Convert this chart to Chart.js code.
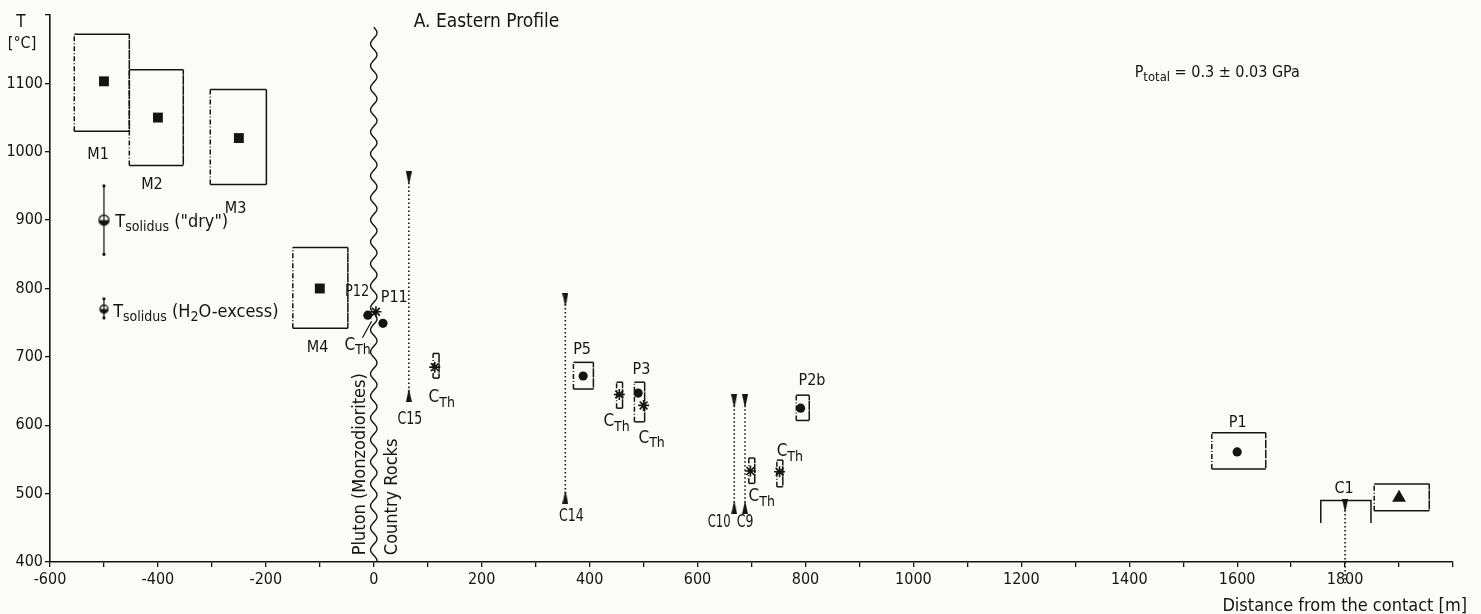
<!DOCTYPE html>
<html>
<head>
<meta charset="utf-8">
<title>A. Eastern Profile</title>
<script src="https://cdn.jsdelivr.net/npm/chart.js@4.4.1/dist/chart.umd.min.js"></script>
<style>
  html, body { margin: 0; padding: 0; background: #fbfbfa; }
  canvas { display: block; }
</style>
</head>
<body>
<canvas id="profileChart" width="1481" height="614"></canvas>
<script>
/*******************************************************
 * DATA
 *******************************************************/
// boxes: distance range [m] and temperature range [°C]
const boxXMin = [-555, -453, -303, -150, 370, 483, 450, 783, 110, 695, 747, 1553, 1854];
const boxXMax = [-453, -353, -199, -48, 407, 502, 461, 807, 121, 706, 758, 1653, 1956];
const boxTMin = [1030, 980, 952, 742, 653, 605, 625, 607, 669, 515, 510, 536, 475];
const boxTMax = [1172, 1120, 1091, 860, 692, 663, 663, 644, 705, 552, 549, 589, 514];

// M samples (squares)
const mX = [-500, -400, -250, -100];
const mT = [1103, 1050, 1020, 800];
// P samples (dots)
const pX = [-11, 17, 388, 490, 791, 1600];
const pT = [761, 749, 672, 647, 625, 561];
// C_Th (asterisks)
const cthX = [4, 113, 455, 500, 698, 752];
const cthT = [766, 685, 645, 629, 533, 532];
// triangle
const triX = [1900];
const triT = [494];
// T solidus references
const solidusX = [-500, -500];
const solidusT = [900, 770];
const solidusLo = [850, 757];
const solidusHi = [950, 785];
// C samples: ranges drawn as dotted verticals
const cNames = ['C15', 'C14', 'C10', 'C9', 'C1'];
const cX = [65, 355, 668, 688, 1800];
const cTop = [961, 783, 635, 635, 482];
const cBottom = [644, 495, 480, 480, 369];
// C1 bracket
const c1BracketX = [1755, 1848];
const c1BracketT = [457, 490];
// contact pluton / country rocks
const contactX = 0;
const contactTop = 1182;

const xMin = -600, xMax = 2000, yMin = 400, yMax = 1200;

/*******************************************************
 * TEXT
 *******************************************************/
const FONT = "'DejaVu Sans Condensed', 'Liberation Sans Narrow', 'DejaVu Sans', sans-serif";
const INK = '#141414';

const notes = [
    { t: 'A. Eastern Profile', x: 74, y: 1190, size: 19, align: 'left' },
    { t: 'P_{total} = 0.3 ± 0.03 GPa', x: 1410, y: 1116, size: 16, align: 'left' },
    { t: 'M1', x: -511, y: 995 },
    { t: 'M2', x: -411, y: 951 },
    { t: 'M3', x: -256, y: 917 },
    { t: 'M4', x: -104, y: 713 },
    { t: 'T_{solidus} ("dry")', x: -479, y: 897, size: 18, align: 'left' },
    { t: 'T_{solidus} (H_{2}O-excess)', x: -483, y: 765, size: 18, align: 'left' },
    { t: 'P12', x: -31, y: 795, sx: 0.9 },
    { t: 'P11', x: 38, y: 786 },
    { t: 'C_{Th}', x: -30, y: 717, size: 17 },
    { t: 'C_{Th}', x: 126, y: 640, size: 17 },
    { t: 'P5', x: 386, y: 710 },
    { t: 'C_{Th}', x: 450, y: 605, size: 17 },
    { t: 'P3', x: 496, y: 681 },
    { t: 'C_{Th}', x: 515, y: 581, size: 17 },
    { t: 'C_{Th}', x: 719, y: 495, size: 17 },
    { t: 'C_{Th}', x: 771, y: 561, size: 17 },
    { t: 'P2b', x: 812, y: 665 },
    { t: 'P1', x: 1601, y: 603 },
    { t: 'C1', x: 1798, y: 507 },
    { t: 'C15', x: 67, y: 608, size: 17, sx: 0.82 },
    { t: 'C14', x: 366, y: 466, size: 17, sx: 0.82 },
    { t: 'C10', x: 640, y: 458, size: 17, sx: 0.76 },
    { t: 'C9', x: 688, y: 458, size: 17, sx: 0.82 },
    { t: 'Pluton (Monzodiorites)', x: -24, y: 410, size: 18, rot: true, align: 'left' },
    { t: 'Country Rocks', x: 35, y: 410, size: 18, rot: true, align: 'left' }
];

function drawRich(ctx, text, x, y, size, align) {
    const parts = text.split(/(_\{[^}]*\})/).filter(Boolean).map(p =>
        p.startsWith('_{') ? { s: p.slice(2, -1), sub: true } : { s: p, sub: false });
    const fontFor = sub => `${sub ? Math.round(size * 0.8) : size}px ${FONT}`;
    let w = 0;
    parts.forEach(p => { ctx.font = fontFor(p.sub); p.w = ctx.measureText(p.s).width; w += p.w; });
    let cx = align === 'left' ? x : align === 'right' ? x - w : x - w / 2;
    parts.forEach(p => {
        ctx.font = fontFor(p.sub);
        ctx.fillText(p.s, cx, y + (p.sub ? size * 0.3 : 0));
        cx += p.w;
    });
}

/*******************************************************
 * MARKERS
 *******************************************************/
function halfDot(r) {
    const c = document.createElement('canvas');
    c.width = c.height = 2 * r + 3;
    const g = c.getContext('2d');
    const m = r + 1.5;
    g.fillStyle = INK;
    g.beginPath(); g.arc(m, m, r, 0, Math.PI); g.fill();
    g.beginPath(); g.arc(m, m, r, 0, 2 * Math.PI);
    g.lineWidth = 1.3; g.strokeStyle = INK; g.stroke();
    return c;
}

function wedge(down) {
    const c = document.createElement('canvas');
    c.width = 6; c.height = 14;
    const g = c.getContext('2d');
    g.fillStyle = INK;
    g.beginPath();
    if (down) { g.moveTo(0, 0); g.lineTo(6, 0); g.lineTo(3, 14); }
    else { g.moveTo(3, 0); g.lineTo(6, 14); g.lineTo(0, 14); }
    g.closePath(); g.fill();
    return c;
}

const wedgeDown = wedge(true);
const wedgeUp = wedge(false);

/*******************************************************
 * DATASETS
 *******************************************************/
const boxPoints = [];
boxXMin.forEach((x0, i) => {
    const x1 = boxXMax[i], y0 = boxTMin[i], y1 = boxTMax[i];
    boxPoints.push({ x: x0, y: y1 }, { x: x1, y: y1 }, { x: x1, y: y0 }, { x: x0, y: y0 }, { x: x0, y: y1 }, { x: x0, y: null });
});

const pts = (xs, ys) => xs.map((x, i) => ({ x, y: ys[i] }));

const datasets = [
    {
        type: 'line', data: boxPoints, borderColor: INK, borderWidth: 1.5, pointRadius: 0, spanGaps: false,
        segment: { borderDash: ctx => ctx.p0.parsed.x === ctx.p1.parsed.x ? [5, 2, 1, 2] : undefined }
    },
    {
        type: 'line', clip: false, pointRadius: 0, borderColor: INK, borderWidth: 1.5,
        data: [{ x: c1BracketX[0], y: c1BracketT[0] }, { x: c1BracketX[0], y: c1BracketT[1] },
               { x: c1BracketX[1], y: c1BracketT[1] }, { x: c1BracketX[1], y: c1BracketT[0] }]
    }
];

cX.forEach((x, i) => {
    datasets.push({
        type: 'line', clip: false, borderColor: INK, borderWidth: 1.6, borderDash: [1.5, 2.5],
        data: [{ x, y: cTop[i] }, { x, y: cBottom[i] }],
        pointStyle: [wedgeDown, wedgeUp], pointRadius: 6
    });
});

solidusX.forEach((x, i) => {
    datasets.push({
        type: 'line', borderColor: INK, borderWidth: 1.2, pointRadius: 1.6,
        pointBackgroundColor: INK, pointBorderWidth: 0,
        data: [{ x, y: solidusLo[i] }, { x, y: solidusHi[i] }]
    });
});

// leader from C_Th label to the P12 asterisk
datasets.push({
    type: 'line', borderColor: INK, borderWidth: 1.2, pointRadius: 0,
    data: [{ x: -21, y: 728 }, { x: -4, y: 752 }]
});

datasets.push(
    { type: 'scatter', data: pts(mX, mT), pointStyle: 'rect', pointRadius: 7, backgroundColor: INK, borderWidth: 0 },
    { type: 'scatter', data: pts(pX, pT), pointStyle: 'circle', pointRadius: 4.6, backgroundColor: INK, borderWidth: 0 },
    { type: 'scatter', data: pts(cthX, cthT), pointStyle: 'star', pointRadius: 5.5, borderColor: INK, borderWidth: 1.6 },
    { type: 'scatter', data: pts(triX, triT), pointStyle: 'triangle', pointRadius: 8, backgroundColor: INK, borderWidth: 0 },
    { type: 'scatter', data: pts(solidusX, solidusT), pointStyle: [halfDot(5), halfDot(4)], pointRadius: 5 }
);

/*******************************************************
 * PLUGINS
 *******************************************************/
const paperPlugin = {
    id: 'paper',
    beforeDraw(chart) {
        const { ctx, width, height } = chart;
        ctx.save();
        ctx.fillStyle = '#fbfbfa';
        ctx.fillRect(0, 0, width, height);
        ctx.restore();
    }
};

const contactPlugin = {
    id: 'contact',
    beforeDatasetsDraw(chart) {
        const { ctx, scales: { x, y } } = chart;
        const x0 = x.getPixelForValue(contactX);
        const top = y.getPixelForValue(contactTop);
        const bottom = y.getPixelForValue(yMin);
        ctx.save();
        ctx.strokeStyle = INK;
        ctx.lineWidth = 1.4;
        ctx.beginPath();
        for (let py = top; py <= bottom; py += 1) {
            const px = x0 + 3.2 * Math.sin((py - top) / 22 * 2 * Math.PI);
            if (py === top) ctx.moveTo(px, py); else ctx.lineTo(px, py);
        }
        ctx.stroke();
        ctx.restore();
    }
};

const notesPlugin = {
    id: 'notes',
    afterDatasetsDraw(chart) {
        const { ctx, scales: { x, y }, chartArea } = chart;
        ctx.save();
        ctx.fillStyle = INK;
        ctx.textBaseline = 'middle';
        ctx.textAlign = 'left';
        notes.forEach(n => {
            const px = x.getPixelForValue(n.x), py = y.getPixelForValue(n.y);
            const size = n.size || 16;
            ctx.save();
            ctx.translate(px, py);
            if (n.rot) ctx.rotate(-Math.PI / 2);
            if (n.sx) ctx.scale(n.sx, 1);
            drawRich(ctx, n.t, 0, 0, size, n.align || 'center');
            ctx.restore();
        });
        // axis titles
        drawRich(ctx, 'T', chartArea.left - 29, chartArea.top + 8, 17, 'center');
        drawRich(ctx, '[°C]', chartArea.left - 28, chartArea.top + 29, 16, 'center');
        drawRich(ctx, 'Distance from the contact [m]', chartArea.right + 14, chartArea.bottom + 44, 18, 'right');
        ctx.restore();
    }
};

/*******************************************************
 * CHART
 *******************************************************/
new Chart(document.getElementById('profileChart'), {
    data: { datasets },
    options: {
        responsive: false,
        animation: false,
        devicePixelRatio: 1,
        layout: { padding: { top: 15, right: 28, bottom: 0, left: 0 } },
        plugins: { legend: { display: false }, tooltip: { enabled: false } },
        scales: {
            x: {
                type: 'linear', min: xMin, max: xMax,
                afterFit: s => { s.height = 52; },
                border: { color: INK, width: 1.6 },
                grid: { drawOnChartArea: false, tickLength: 5, color: INK, lineWidth: 1.3 },
                ticks: {
                    stepSize: 100, autoSkip: false, maxRotation: 0, padding: 3, color: INK,
                    font: { family: FONT, size: 16 },
                    callback: v => (v % 200 === 0 && v < xMax) ? String(v) : ''
                }
            },
            y: {
                type: 'linear', min: yMin, max: yMax,
                afterFit: s => { s.width = 50; },
                border: { color: INK, width: 1.6 },
                grid: { drawOnChartArea: false, tickLength: 5, color: INK, lineWidth: 1.3 },
                ticks: {
                    stepSize: 100, padding: 2, color: INK,
                    font: { family: FONT, size: 16 },
                    callback: v => v < yMax ? String(v) : ''
                }
            }
        }
    },
    plugins: [paperPlugin, contactPlugin, notesPlugin]
});
</script>
</body>
</html>
